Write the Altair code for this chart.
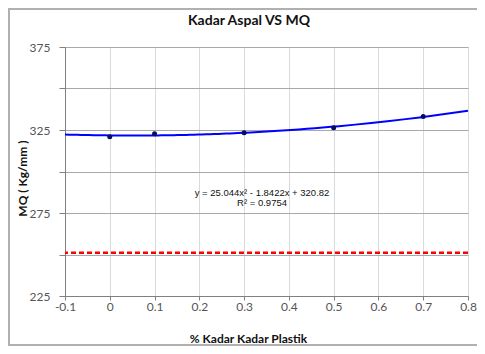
import altair as alt
import pandas as pd

# Data
kadar_plastik = [0.0, 0.1, 0.3, 0.5, 0.7]
mq_values = [321.0, 322.8, 323.4, 326.3, 333.2]
batas_mq = [251.0]
x_labels = [-0.1, 0.0, 0.1, 0.2, 0.3, 0.4, 0.5, 0.6, 0.7, 0.8]
x_grid = [-0.1, -0.05, 0.0, 0.05, 0.1, 0.15, 0.2, 0.25, 0.3, 0.35, 0.4,
          0.45, 0.5, 0.55, 0.6, 0.65, 0.7, 0.75, 0.8]
y_labels = [225, 275, 325, 375]
y_grid = [225, 250, 275, 300, 325, 350, 375]
eq_text = ["y = 25.044x\u00b2 - 1.8422x + 320.82", "R\u00b2 = 0.9754"]
eq_pos_x = [0.34, 0.34]
eq_pos_y = [287.0, 281.0]
chart_title = ["Kadar Aspal VS MQ"]

df = pd.DataFrame({"x": kadar_plastik, "y": mq_values})
df_lim = pd.DataFrame({"y": batas_mq})
df_txt = pd.DataFrame({"t": eq_text, "x": eq_pos_x, "y": eq_pos_y})
df_title = pd.DataFrame({"t": chart_title})

FONT = "Lato"

x_scale = alt.Scale(domain=[x_labels[0], x_labels[-1]], nice=False, zero=False)
y_scale = alt.Scale(domain=[y_labels[0], y_labels[-1]], nice=False, zero=False)

x_axis = alt.Axis(
    values=x_grid,
    labelExpr="abs(datum.value*10 - round(datum.value*10)) < 0.001 ? "
              "(abs(datum.value) < 1e-9 ? '0' : (datum.value < 0 ? '-' + format(-datum.value, '.1f') : format(datum.value, '.1f'))) : ''",
    title="% Kadar Kadar Plastik",
    titleFont=FONT, titleFontSize=12, titleFontWeight="bold", titleColor="#111111",
    titleX=183, titleY=42, titleBaseline="middle", titleAnchor="middle",
    labelFont=FONT, labelFontSize=12, labelColor="#555555", labelPadding=1,
    labelFlush=False, labelOverlap=False,
    tickSize=4, tickColor="#808080", domainColor="#808080",
    grid=True, gridColor="#dadada", gridWidth=1,
)
y_axis = alt.Axis(
    values=y_grid,
    labelExpr="datum.value % 50 == 25 ? datum.value : ''",
    title="MQ ( Kg/mm )",
    titleFont=FONT, titleFontSize=12, titleFontWeight="bold", titleColor="#111111",
    titleX=-43, titleY=131, titleAnchor="middle", titleBaseline="middle", titleAngle=-90,
    labelFont=FONT, labelFontSize=12, labelColor="#555555", labelPadding=9,
    labelFlush=False, labelOverlap=False,
    tickSize=6, tickColor="#808080", domainColor="#808080",
    grid=True, gridColor="#a8a8a8", gridWidth=1,
)

frame = alt.Chart(pd.DataFrame({"a": [0]})).mark_rect(
    filled=False, stroke="#b0b0b0", strokeWidth=2
).encode(
    x=alt.value(-56), x2=alt.value(470), y=alt.value(-38), y2=alt.value(298)
)

title_mark = alt.Chart(df_title).mark_text(
    font=FONT, fontSize=14, fontWeight="bold", color="#111111",
    align="center", baseline="middle"
).encode(x=alt.value(184), y=alt.value(-26), text="t:N")

points = alt.Chart(df).mark_circle(
    size=25, color="#0b0b60", opacity=1
).encode(
    x=alt.X("x:Q", scale=x_scale, axis=x_axis),
    y=alt.Y("y:Q", scale=y_scale, axis=y_axis),
)

trend = alt.Chart(df).transform_regression(
    "x", "y", method="poly", order=2, extent=[x_labels[0], x_labels[-1]]
).mark_line(color="#0000ff", strokeWidth=2).encode(
    x=alt.X("x:Q", scale=x_scale),
    y=alt.Y("y:Q", scale=y_scale),
)

limit = alt.Chart(df_lim).mark_rule(
    color="#ff0000", strokeWidth=2.5, strokeDash=[5, 3]
).encode(y=alt.Y("y:Q", scale=y_scale))

txt = alt.Chart(df_txt).mark_text(
    font="Liberation Sans", fontSize=9.5, color="#111111", align="center", baseline="middle"
).encode(
    x=alt.X("x:Q", scale=x_scale),
    y=alt.Y("y:Q", scale=y_scale),
    text="t:N",
)

chart = alt.layer(frame, limit, trend, points, txt, title_mark).properties(
    width=403,
    height=249,
    autosize=alt.AutoSizeParams(type="none"),
    padding={"left": 57, "top": 39, "right": 9, "bottom": 50},
).configure_view(
    stroke="#909090", strokeWidth=1
).configure(background="white")

chart.save("out.html", embed_options={"renderer": "svg", "actions": False})
